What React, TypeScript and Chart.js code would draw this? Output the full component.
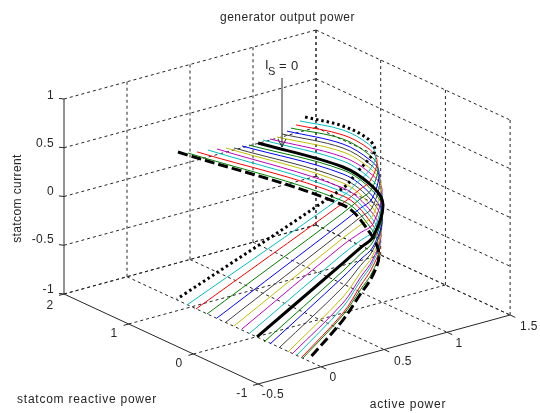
import React, { useEffect, useRef } from "react";
import { Chart, registerables } from "chart.js";

Chart.register(...registerables);

// Axis ticks
const activeTicks = [-0.5, 0, 0.5, 1, 1.5];
const reactiveTicks = [2, 1, 0, -1];
const currentTicks = [-1, -0.5, 0, 0.5, 1];

// One curve per entry, from the dotted curve to the dashed curve
const curveStyles = ["dotted", "c", "r", "g", "b", "k", "y", "m", "c", "thick", "g", "b", "k", "y", "m", "c", "r", "g", "dashed"];
const reactivePower = [1.23, 1.07, 0.93, 0.76, 0.61, 0.47, 0.35, 0.22, 0.1, 0, -0.12, -0.21, -0.35, -0.49, -0.55, -0.63, -0.7, -0.72, -0.78];
const activePower = [
  [1.018, 1.319, 1.518, 1.573, 1.518, 1.438, 1.319, 0.002],
  [0.895, 1.236, 1.439, 1.498, 1.443, 1.36, 1.236, -0.002],
  [0.792, 1.165, 1.372, 1.435, 1.38, 1.294, 1.165, -0.001],
  [0.665, 1.077, 1.288, 1.355, 1.3, 1.211, 1.077, -0.002],
  [0.556, 1.0, 1.215, 1.286, 1.23, 1.138, 1.0, 0],
  [0.444, 0.928, 1.151, 1.222, 1.158, 1.066, 0.928, 0],
  [0.343, 0.867, 1.097, 1.169, 1.101, 1.007, 0.867, 0.002],
  [0.221, 0.8, 1.034, 1.11, 1.038, 0.943, 0.8, -0.001],
  [0.103, 0.738, 0.976, 1.052, 0.976, 0.881, 0.738, 0],
  [0.013, 0.687, 0.925, 1.005, 0.925, 0.83, 0.687, 0.005],
  [-0.121, 0.625, 0.863, 0.943, 0.863, 0.768, 0.625, -0.002],
  [-0.222, 0.579, 0.813, 0.893, 0.817, 0.722, 0.579, 0],
  [-0.358, 0.507, 0.737, 0.817, 0.741, 0.647, 0.507, -0.001],
  [-0.493, 0.435, 0.665, 0.741, 0.669, 0.575, 0.435, -0.001],
  [-0.595, 0.405, 0.631, 0.707, 0.639, 0.545, 0.405, 0.001],
  [-0.708, 0.363, 0.586, 0.661, 0.593, 0.501, 0.363, -0.002],
  [-0.83, 0.328, 0.547, 0.622, 0.558, 0.466, 0.328, 0.003],
  [-0.913, 0.317, 0.532, 0.607, 0.547, 0.455, 0.317, 0],
  [-1.023, 0.286, 0.501, 0.572, 0.516, 0.424, 0.286, 0.024],
];
const statcomCurrent = [
  [0.515, 0.316, 0.113, -0.02, -0.102, -0.189, -0.32, -0.992],
  [0.567, 0.354, 0.138, 0.005, -0.14, -0.213, -0.323, -1.003],
  [0.606, 0.371, 0.154, 0.009, -0.177, -0.237, -0.327, -1.0],
  [0.671, 0.413, 0.175, 0.027, -0.189, -0.252, -0.346, -1.0],
  [0.725, 0.435, 0.195, 0.047, -0.21, -0.272, -0.365, -0.996],
  [0.778, 0.463, 0.209, 0.051, -0.234, -0.296, -0.389, -0.994],
  [0.82, 0.48, 0.215, 0.046, -0.259, -0.316, -0.402, -0.998],
  [0.882, 0.493, 0.225, 0.045, -0.279, -0.331, -0.41, -0.987],
  [0.95, 0.51, 0.221, 0.03, -0.292, -0.352, -0.443, -0.992],
  [0.983, 0.498, 0.209, -0.004, -0.304, -0.377, -0.487, -1.004],
  [1.046, 0.526, 0.226, -0.006, -0.297, -0.382, -0.51, -1.017],
  [1.1, 0.529, 0.22, -0.023, -0.304, -0.394, -0.528, -1.01],
  [1.171, 0.546, 0.239, -0.015, -0.275, -0.39, -0.562, -1.008],
  [1.261, 0.574, 0.246, -0.006, -0.258, -0.393, -0.596, -1.005],
  [1.306, 0.552, 0.226, -0.027, -0.27, -0.413, -0.628, -1.007],
  [1.36, 0.55, 0.214, -0.048, -0.27, -0.414, -0.63, -0.993],
  [1.405, 0.543, 0.199, -0.063, -0.277, -0.429, -0.657, -0.993],
  [1.429, 0.502, 0.159, -0.104, -0.318, -0.458, -0.668, -0.996],
  [1.497, 0.49, 0.127, -0.124, -0.33, -0.474, -0.69, -0.986],
];

const titleText = "generator output power";
const activeAxisLabel = "active power";
const reactiveAxisLabel = "statcom reactive power";
const currentAxisLabel = "statcom current";

const thinColors: Record<string, string> = {
  c: "#00bfbf",
  r: "#ff0000",
  g: "#008000",
  b: "#0000ff",
  k: "#404040",
  y: "#bfbf00",
  m: "#bf00bf",
};

// Oblique view of the 3D box onto the chart's two linear scales
const view = (p: number, q: number, i: number) => ({
  x: 64 + (2 - q) * 64.7 + (p + 0.5) * 126,
  y: 294 - (i + 1) * 97.5 + (2 - q) * 30 - (p + 0.5) * 34.5,
});

const INK = "#262626";

function segment(a: number[], b: number[], solid: boolean) {
  return {
    data: [view(a[0], a[1], a[2]), view(b[0], b[1], b[2])],
    showLine: true,
    pointRadius: 0,
    borderColor: INK,
    borderWidth: 1,
    borderDash: solid ? [] : [3, 3],
    order: 100,
  };
}

function boxDatasets() {
  const out: any[] = [];
  const pMin = -0.5, pMax = 1.5, qBack = 2, qFront = -1, iMin = -1, iMax = 1;
  for (const q of reactiveTicks) {
    out.push(segment([pMin, q, iMin], [pMax, q, iMin], q === qFront));
    out.push(segment([pMax, q, iMin], [pMax, q, iMax], false));
    out.push(segment([pMin, q, iMin], [pMin - 0.04, q, iMin], true));
  }
  for (const p of activeTicks) {
    out.push(segment([p, qBack, iMin], [p, qFront, iMin], p === pMin));
    out.push(segment([p, qBack, iMin], [p, qBack, iMax], p === pMin));
    out.push(segment([p, qFront, iMin], [p, qFront - 0.08, iMin], true));
  }
  for (const i of currentTicks) {
    out.push(segment([pMin, qBack, i], [pMax, qBack, i], false));
    out.push(segment([pMax, qBack, i], [pMax, qFront, i], false));
    out.push(segment([pMin, qBack, i], [pMin - 0.04, qBack, i + 0.02], true));
  }
  return out;
}

function curveDatasets() {
  return curveStyles.map((style, k) => {
    const data = activePower[k].map((p, j) => view(p, reactivePower[k], statcomCurrent[k][j]));
    const heavy = style === "thick" || style === "dotted" || style === "dashed";
    return {
      data,
      showLine: true,
      pointRadius: 0,
      tension: 0.35,
      borderColor: heavy ? "#000000" : thinColors[style],
      borderWidth: heavy ? 3 : 1,
      borderDash: style === "dotted" ? [2.5, 3] : style === "dashed" ? [10, 4] : [],
      order: heavy ? 1 : 2,
    };
  });
}

type Label = { text: string; x: number; y: number; align?: CanvasTextAlign; spacing?: string };

const activeTickLabels = ["-0.5", "0", "0.5", "1", "1.5"];
const reactiveTickLabels = ["2", "1", "0", "-1"];
const currentTickLabels = ["-1", "-0.5", "0", "0.5", "1"];

const labels: Label[] = [
  { text: titleText, x: 287.5, y: 18, align: "center", spacing: "0.5px" },
  { text: activeAxisLabel, x: 408, y: 405, align: "center", spacing: "0.75px" },
  { text: reactiveAxisLabel, x: 87, y: 400, align: "center", spacing: "0.75px" },
  ...currentTickLabels.map((text, n) => ({ text, x: 54, y: [290, 240, 192, 144, 96][n], align: "right" as CanvasTextAlign })),
  ...reactiveTickLabels.map((text, n) => ({ text, x: [50, 114, 179, 242][n], y: [306, 334, 364, 394][n], align: "center" as CanvasTextAlign })),
  ...activeTickLabels.map((text, n) => ({ text, x: [273, 333, 403, 459, 529][n], y: [395, 378, 362, 344, 327][n], align: "center" as CanvasTextAlign })),
];

const textPlugin = {
  id: "chartText",
  afterDatasetsDraw(chart: any) {
    const { ctx, scales } = chart;
    const px = (x: number) => scales.x.getPixelForValue(x);
    const py = (y: number) => scales.y.getPixelForValue(y);
    ctx.save();
    ctx.fillStyle = INK;
    ctx.textBaseline = "middle";
    ctx.font = "12px 'Liberation Sans'";
    for (const l of labels) {
      (ctx as any).letterSpacing = l.spacing || "0.4px";
      ctx.textAlign = l.align || "center";
      ctx.fillText(l.text, px(l.x), py(l.y));
    }
    ctx.save();
    (ctx as any).letterSpacing = "0.4px";
    ctx.translate(px(18), py(198.5));
    ctx.rotate(-Math.PI / 2);
    ctx.textAlign = "center";
    ctx.fillText(currentAxisLabel, 0, 0);
    ctx.restore();

    // I_S = 0 annotation with its arrow
    (ctx as any).letterSpacing = "0.4px";
    ctx.textAlign = "left";
    ctx.font = "13px 'Liberation Sans'";
    ctx.fillText("I", px(265), py(65));
    ctx.font = "11px 'Liberation Sans'";
    ctx.fillText("S", px(268), py(72));
    ctx.font = "13px 'Liberation Sans'";
    ctx.fillText("= 0", px(279), py(66));
    ctx.strokeStyle = INK;
    ctx.lineWidth = 1;
    ctx.beginPath();
    ctx.moveTo(px(282), py(78));
    ctx.lineTo(px(282), py(147));
    ctx.moveTo(px(278), py(139));
    ctx.lineTo(px(282), py(147));
    ctx.lineTo(px(286), py(139));
    ctx.stroke();
    ctx.restore();
  },
};

export default function App() {
  const ref = useRef<HTMLCanvasElement | null>(null);
  useEffect(() => {
    document.body.style.margin = "0";
    document.body.style.background = "#ffffff";
    const chart = new Chart(ref.current as HTMLCanvasElement, {
      type: "scatter",
      data: { datasets: [...boxDatasets(), ...curveDatasets()] as any },
      options: {
        animation: false,
        responsive: false,
        layout: { padding: 0 },
        plugins: { legend: { display: false }, tooltip: { enabled: false }, title: { display: false } },
        scales: {
          x: { type: "linear", display: false, min: 0, max: 540 },
          y: { type: "linear", display: false, min: 0, max: 413, reverse: true },
        },
        elements: { line: { capBezierPoints: true } },
      },
      plugins: [textPlugin],
    });
    return () => chart.destroy();
  }, []);
  return (
    <div style={{ position: "absolute", left: 0, top: 0, width: 540, height: 413, background: "#fff" }}>
      <canvas ref={ref} width={540} height={413} style={{ display: "block", filter: "blur(0.4px)" }} />
    </div>
  );
}
